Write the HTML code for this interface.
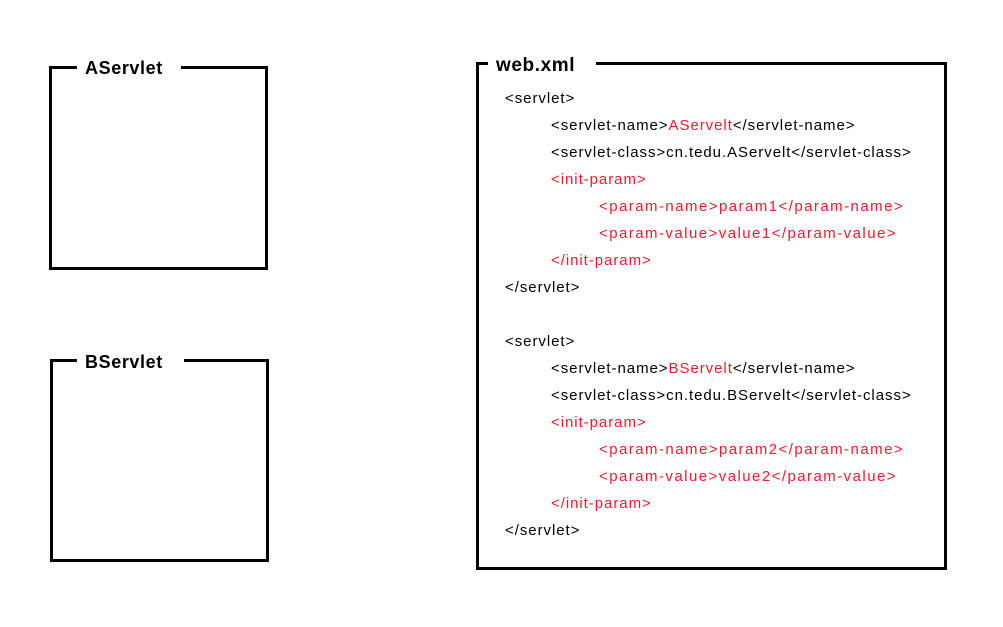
<!DOCTYPE html>
<html><head><style>
body{margin:0;width:1003px;height:627px;background:#fff;position:relative;font-family:"Liberation Sans",sans-serif;overflow:hidden}
.box{position:absolute;border:3px solid #000;box-sizing:border-box}
.t{position:absolute;background:#fff;font-weight:bold;font-size:18px;line-height:22px;padding:0 8px;color:#000;letter-spacing:0.6px}
.l{position:absolute;font-size:15px;line-height:27px;white-space:pre;color:#000;letter-spacing:0.95px}
.p{letter-spacing:1.45px}
.r{color:#ee1c2e}
</style></head><body>
<div class="box" style="left:49px;top:66px;width:219px;height:204px"></div>
<div class="t" style="left:77px;top:57px;width:88px">AServlet</div>
<div class="box" style="left:50px;top:359px;width:219px;height:203px"></div>
<div class="t" style="left:77px;top:351px;width:91px">BServlet</div>
<div class="box" style="left:476px;top:62px;width:471px;height:508px"></div>
<div class="t" style="left:488px;top:55px;width:92px;font-size:19px">web.xml</div>

<div class="l" style="left:505px;top:85px">&lt;servlet&gt;</div>
<div class="l" style="left:551px;top:112px">&lt;servlet-name&gt;<span class="r">AServelt</span>&lt;/servlet-name&gt;</div>
<div class="l" style="left:551px;top:139px">&lt;servlet-class&gt;cn.tedu.AServelt&lt;/servlet-class&gt;</div>
<div class="l r" style="left:551px;top:166px">&lt;init-param&gt;</div>
<div class="l r p" style="left:599px;top:193px">&lt;param-name&gt;param1&lt;/param-name&gt;</div>
<div class="l r p" style="left:599px;top:220px">&lt;param-value&gt;value1&lt;/param-value&gt;</div>
<div class="l r" style="left:551px;top:247px">&lt;/init-param&gt;</div>
<div class="l" style="left:505px;top:274px">&lt;/servlet&gt;</div>

<div class="l" style="left:505px;top:328px">&lt;servlet&gt;</div>
<div class="l" style="left:551px;top:355px">&lt;servlet-name&gt;<span class="r">BServelt</span>&lt;/servlet-name&gt;</div>
<div class="l" style="left:551px;top:382px">&lt;servlet-class&gt;cn.tedu.BServelt&lt;/servlet-class&gt;</div>
<div class="l r" style="left:551px;top:409px">&lt;init-param&gt;</div>
<div class="l r p" style="left:599px;top:436px">&lt;param-name&gt;param2&lt;/param-name&gt;</div>
<div class="l r p" style="left:599px;top:463px">&lt;param-value&gt;value2&lt;/param-value&gt;</div>
<div class="l r" style="left:551px;top:490px">&lt;/init-param&gt;</div>
<div class="l" style="left:505px;top:517px">&lt;/servlet&gt;</div>
</body></html>
